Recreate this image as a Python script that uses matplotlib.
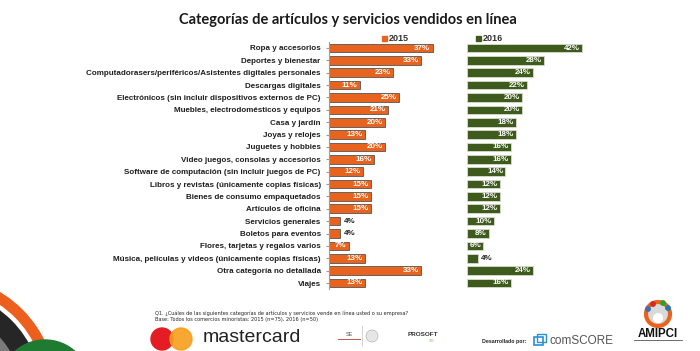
import matplotlib
matplotlib.use("Agg")
import matplotlib.pyplot as plt
from matplotlib.patches import Circle, Rectangle

categories = [
    "Ropa y accesorios",
    "Deportes y bienestar",
    "Computadorasers/periféricos/Asistentes digitales personales",
    "Descargas digitales",
    "Electrónicos (sin incluir dispositivos externos de PC)",
    "Muebles, electrodomésticos y equipos",
    "Casa y jardín",
    "Joyas y relojes",
    "Juguetes y hobbies",
    "Video juegos, consolas y accesorios",
    "Software de computación (sin incluir juegos de PC)",
    "Libros y revistas (únicamente copias físicas)",
    "Bienes de consumo empaquetados",
    "Artículos de oficina",
    "Servicios generales",
    "Boletos para eventos",
    "Flores, tarjetas y regalos varios",
    "Música, películas y videos (únicamente copias físicas)",
    "Otra categoría no detallada",
    "Viajes",
]
vals_2015 = [37, 33, 23, 11, 25, 21, 20, 13, 20, 16, 12, 15, 15, 15, 4, 4, 7, 13, 33, 13]
vals_2016 = [42, 28, 24, 22, 20, 20, 18, 18, 16, 16, 14, 12, 12, 12, 10, 8, 6, 4, 24, 16]
series_labels = ["2015", "2016"]

ORANGE = "#E8641E"
GREEN = "#3E5A1C"
TXT = "#1e1e1e"
W, H = 700, 351

fig = plt.figure(figsize=(7.0, 3.51), dpi=100)
fig.patch.set_facecolor("white")

# overlay axes in pixel coordinates for decorations
ov = fig.add_axes([0, 0, 1, 1])
ov.set_xlim(0, W)
ov.set_ylim(H, 0)
ov.axis("off")
ov.set_zorder(0)

n = len(categories)
row0, rowN = 48, 283
sp = (rowN - row0) / (n - 1)
top_px = row0 - sp / 2
bot_px = rowN + sp / 2

def ax_at(x0, w):
    a = fig.add_axes([x0 / W, 1 - bot_px / H, w / W, (bot_px - top_px) / H])
    a.set_zorder(2)
    return a

axL = ax_at(329, 112)
axR = ax_at(467, 123)
ypos = list(range(n))

for ax, vals, col, ec, xmax in [(axL, vals_2015, ORANGE, "#555555", 40),
                                (axR, vals_2016, GREEN, "#d8dccf", 44.9)]:
    ax.barh(ypos, vals, height=0.7, color=col, edgecolor=ec, linewidth=0.6)
    ax.set_xlim(0, xmax)
    ax.set_ylim(n - 0.5, -0.5)
    ax.set_xticks([])
    for s in ["top", "right", "bottom"]:
        ax.spines[s].set_visible(False)
    for y, v in zip(ypos, vals):
        if v <= 4:
            ax.text(v + 1.2, y, f"{v}%", ha="left", va="center", fontsize=5.8,
                    fontweight="bold", color=TXT, family="Liberation Sans")
        else:
            ax.text(v - 0.8, y, f"{v}%", ha="right", va="center", fontsize=5.8,
                    fontweight="bold", color="white", family="Liberation Sans")
    ax.patch.set_alpha(0)

axL.spines["left"].set_color("#9a9a9a")
axL.spines["left"].set_linewidth(0.8)
axL.set_yticks(ypos)
axL.set_yticklabels(categories, fontsize=5.8, fontweight="bold", color=TXT, family="Liberation Sans")
axL.tick_params(axis="y", length=2, color="#9a9a9a", pad=4)
axR.spines["left"].set_visible(False)
axR.set_yticks([])

# Title
ov.text(348, 20, "Categorías de artículos y servicios vendidos en línea",
        ha="center", va="center", fontsize=10.5, fontweight="bold", color="#1a1a1a", family="Lato")

# Legends
for x, col, lab in [(382, ORANGE, series_labels[0]), (476, GREEN, series_labels[1])]:
    ov.add_patch(Rectangle((x, 36), 5, 5, color=col))
    ov.text(x + 7, 38.5, lab, ha="left", va="center", fontsize=6.5,
            fontweight="bold", color="#333333", family="Liberation Sans")

# Footer notes
ov.text(155, 313,
        "Q1. ¿Cuáles de las siguientes categorías de artículos y servicios vende en línea usted o su empresa?",
        fontsize=3.6, color="#222222", family="Liberation Sans Narrow", va="center")
ov.text(155, 319, "Base: Todos los comercios minoristas: 2015 (n=75), 2016 (n=50)",
        fontsize=3.6, color="#222222", family="Liberation Sans Narrow", va="center")

# Decorative arcs bottom-left
ov.add_patch(Circle((-60, 392), 116, color="#EC5F1E", zorder=1))
ov.add_patch(Circle((-60, 392), 105, color="white", zorder=1.1))
ov.add_patch(Circle((-61, 393), 102, color="#262626", zorder=1.2))
ov.add_patch(Circle((-64, 396), 86, color="#7a7a7a", zorder=1.3))
ov.add_patch(Circle((45, 385), 45, color="#1f7a32", zorder=1.4))

# mastercard logo
ov.add_patch(Circle((162, 339), 11, color="#E51C23", zorder=1))
ov.add_patch(Circle((181, 339), 11, color="#F79E1B", alpha=0.9, zorder=1.1))
ov.text(203, 338, "mastercard", fontsize=14, color="#222222", va="center", ha="left",
        family="Liberation Sans")

# SE / emblem / PROSOFT
ov.text(349, 334, "SE", fontsize=4, color="#555555", ha="center", va="center", family="Liberation Sans")
ov.plot([338, 360], [339, 339], color="#c0392b", lw=0.6)
ov.plot([362, 362], [326, 346], color="#cccccc", lw=0.6)
ov.add_patch(Circle((372, 336), 6, facecolor="#e6e6e6", edgecolor="#b5b5b5", lw=0.5))
ov.text(423, 334, "PROSOFT", fontsize=4.6, fontweight="bold", color="#333333",
        ha="center", va="center", family="Liberation Sans")
ov.text(432, 341, "3.0", fontsize=2.8, color="#7ab648", ha="center", va="center", family="Liberation Sans")

# comScore
ov.text(482, 342, "Desarrollado por:", fontsize=3.8, fontweight="bold", color="#222222",
        ha="left", va="center", family="Liberation Sans")
ov.add_patch(Rectangle((534, 337), 9, 8, facecolor="none", edgecolor="#2a8fd6", lw=1.2))
ov.add_patch(Rectangle((537, 334), 9, 8, facecolor="none", edgecolor="#2a8fd6", lw=1.0))
ov.text(549, 341, "comSCORE", fontsize=8.5, color="#555555", ha="left", va="center",
        family="Liberation Sans")

# AMIPCI
ov.add_patch(Circle((658, 314), 12, facecolor="#d9d9d9", edgecolor=ORANGE, lw=3))
ov.add_patch(Circle((658, 318), 5, facecolor="white", edgecolor="none"))
for (cx, cy, cc) in [(648, 309, "#3b6fb6"), (653, 304, "#d62728"), (663, 303, "#2ca02c"), (668, 308, "#1f77b4")]:
    ov.add_patch(Circle((cx, cy), 2.2, color=cc))
ov.text(658, 334, "AMIPCI", fontsize=8.3, fontweight="bold", color="#111111",
        ha="center", va="center", family="Liberation Sans")
ov.plot([634, 682], [340, 340], color="#555555", lw=0.6)

fig.savefig("out.png", dpi=100, facecolor="white")
